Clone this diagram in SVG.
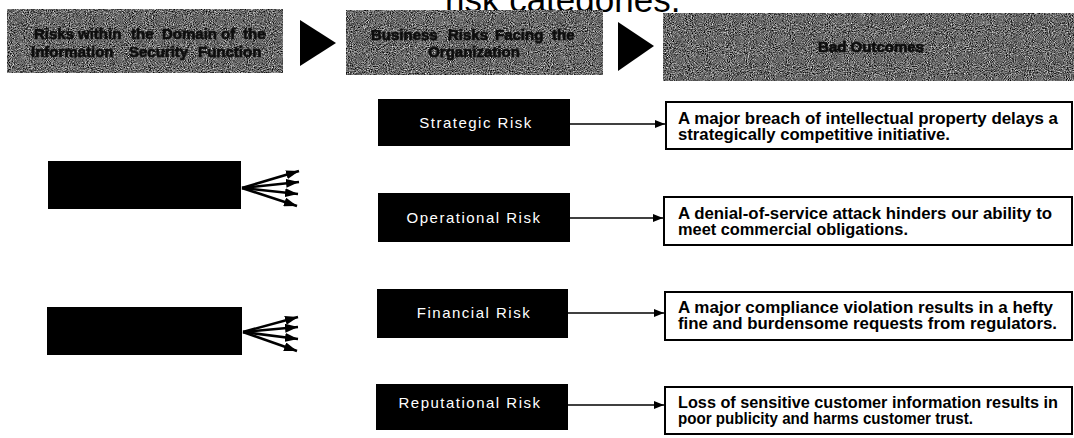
<svg xmlns="http://www.w3.org/2000/svg" width="1074" height="438" viewBox="0 0 1074 438">
  <defs>
    <!-- grainy halftone texture for the column headers -->
    <filter id="grain" x="0" y="0" width="100%" height="100%" color-interpolation-filters="sRGB">
      <feTurbulence type="fractalNoise" baseFrequency="0.95" numOctaves="2" seed="7"/>
      <feColorMatrix type="matrix" values="0.33 0.33 0.33 0 0  0.33 0.33 0.33 0 0  0.33 0.33 0.33 0 0  0 0 0 0 1"/>
      <feComponentTransfer>
        <feFuncR type="linear" slope="2.4" intercept="-0.78"/>
        <feFuncG type="linear" slope="2.4" intercept="-0.78"/>
        <feFuncB type="linear" slope="2.4" intercept="-0.78"/>
      </feComponentTransfer>
      <feComposite operator="in" in2="SourceGraphic"/>
    </filter>
    <filter id="soft" x="-5%" y="-30%" width="110%" height="160%">
      <feGaussianBlur stdDeviation="0.6"/>
    </filter>
    <marker id="head" viewBox="0 0 10 8" refX="10" refY="4" markerUnits="userSpaceOnUse" markerWidth="10" markerHeight="8" orient="auto">
      <path d="M0,0 L10,4 L0,8 z" fill="#000"/>
    </marker>
    <marker id="fanhead" viewBox="0 0 13 9" refX="13" refY="4.5" markerUnits="userSpaceOnUse" markerWidth="13" markerHeight="9" orient="auto">
      <path d="M0,0 L13,4.5 L0,9 z" fill="#000"/>
    </marker>
  </defs>
  <style>
    .hdr { fill: #7e7e7e; }
    .hdrtxt { font-family: "Liberation Sans", Arial, sans-serif; font-weight: bold; font-size: 15px; fill: #111; stroke: #111; stroke-width: 0.7px; }
    .blk { fill: #000; }
    .risk { font-family: "Liberation Sans", Arial, sans-serif; font-size: 15px; fill: #fff; letter-spacing: 1.5px; text-anchor: middle; }
    .out { fill: #fff; stroke: #000; stroke-width: 2; }
    .outtxt { font-family: "Liberation Sans", Arial, sans-serif; font-weight: bold; font-size: 16px; fill: #000; }
    .link { stroke: #000; stroke-width: 1.6; fill: none; marker-end: url(#head); }
    .fan { stroke: #000; stroke-width: 2.6; fill: none; marker-end: url(#fanhead); }
    .step { fill: #000; }
    .title { font-family: "Liberation Sans", Arial, sans-serif; font-size: 35px; fill: #000; }
  </style>

  <rect width="1074" height="438" fill="#fff"/>

  <!-- figure caption, clipped at the top edge -->
  <text class="title" x="445" y="12">risk categories.</text>

  <!-- column headers -->
  <g id="header-domain">
    <rect class="hdr" x="7" y="9" width="276" height="64"/>
    <rect x="7" y="9" width="276" height="64" filter="url(#grain)" fill="#888"/>
    <g class="hdrtxt" filter="url(#soft)">
      <text y="39"><tspan x="34">Risks</tspan><tspan x="78">within</tspan><tspan x="131">the</tspan><tspan x="162">Domain</tspan><tspan x="221">of</tspan><tspan x="243">the</tspan></text>
      <text y="57"><tspan x="31">Information</tspan><tspan x="129">Security</tspan><tspan x="198">Function</tspan></text>
    </g>
  </g>
  <polygon id="step-1" class="step" points="300,20 336,43 300,66"/>
  <g id="header-business">
    <rect class="hdr" x="346" y="10" width="257" height="65"/>
    <rect x="346" y="10" width="257" height="65" filter="url(#grain)" fill="#888"/>
    <g class="hdrtxt" filter="url(#soft)">
      <text y="40"><tspan x="371">Business</tspan><tspan x="448">Risks</tspan><tspan x="495">Facing</tspan><tspan x="552">the</tspan></text>
      <text y="57" x="474" text-anchor="middle">Organization</text>
    </g>
  </g>
  <polygon id="step-2" class="step" points="618,22 654,46 618,71"/>
  <g id="header-outcomes">
    <rect class="hdr" x="663" y="13" width="411" height="68"/>
    <rect x="663" y="13" width="411" height="68" filter="url(#grain)" fill="#888"/>
    <g class="hdrtxt" filter="url(#soft)">
      <text x="871" y="52" text-anchor="middle">Bad Outcomes</text>
    </g>
  </g>

  <!-- information security domain boxes -->
  <g id="domain-a">
    <rect class="blk" x="48" y="161" width="193" height="48"/>
  </g>
  <g id="domain-b">
    <rect class="blk" x="47" y="307" width="195" height="48"/>
  </g>

  <!-- business risk categories -->
  <g id="strategic-risk">
    <rect class="blk" x="378" y="99" width="192" height="47"/>
    <text class="risk" x="476" y="128">Strategic Risk</text>
  </g>
  <g id="operational-risk">
    <rect class="blk" x="378" y="193" width="192" height="49"/>
    <text class="risk" x="474" y="223">Operational Risk</text>
  </g>
  <g id="financial-risk">
    <rect class="blk" x="377" y="289" width="191" height="49"/>
    <text class="risk" x="474" y="318">Financial Risk</text>
  </g>
  <g id="reputational-risk">
    <rect class="blk" x="376" y="384" width="192" height="46"/>
    <text class="risk" x="470" y="408">Reputational Risk</text>
  </g>

  <!-- bad outcomes -->
  <g id="outcome-strategic">
    <rect class="out" x="666" y="102" width="406" height="47"/>
    <text class="outtxt" x="678" y="124" textLength="380" lengthAdjust="spacingAndGlyphs">A major breach of intellectual property delays a</text>
    <text class="outtxt" x="678" y="140" textLength="272" lengthAdjust="spacingAndGlyphs">strategically competitive initiative.</text>
  </g>
  <g id="outcome-operational">
    <rect class="out" x="664" y="197" width="408" height="48"/>
    <text class="outtxt" x="678" y="219" textLength="374" lengthAdjust="spacingAndGlyphs">A denial-of-service attack hinders our ability to</text>
    <text class="outtxt" x="678" y="235" textLength="230" lengthAdjust="spacingAndGlyphs">meet commercial obligations.</text>
  </g>
  <g id="outcome-financial">
    <rect class="out" x="665" y="292" width="407" height="48"/>
    <text class="outtxt" x="678" y="313" textLength="375" lengthAdjust="spacingAndGlyphs">A major compliance violation results in a hefty</text>
    <text class="outtxt" x="678" y="329" textLength="379" lengthAdjust="spacingAndGlyphs">fine and burdensome requests from regulators.</text>
  </g>
  <g id="outcome-reputational">
    <rect class="out" x="665" y="387" width="407" height="47"/>
    <text class="outtxt" x="678" y="408" textLength="380" lengthAdjust="spacingAndGlyphs">Loss of sensitive customer information results in</text>
    <text class="outtxt" x="678" y="424" textLength="295" lengthAdjust="spacingAndGlyphs">poor publicity and harms customer trust.</text>
  </g>

  <!-- connectors -->
  <g id="connectors">
    <line class="link" x1="570" y1="124" x2="665" y2="124"/>
    <line class="link" x1="570" y1="218" x2="663" y2="218"/>
    <line class="link" x1="568" y1="313" x2="664" y2="313"/>
    <line class="link" x1="568" y1="405" x2="664" y2="405"/>

    <line class="fan" x1="242" y1="188" x2="299" y2="171"/>
    <line class="fan" x1="242" y1="188" x2="299" y2="182"/>
    <line class="fan" x1="242" y1="188" x2="298" y2="194"/>
    <line class="fan" x1="242" y1="188" x2="297" y2="206"/>

    <line class="fan" x1="243" y1="332" x2="298" y2="317"/>
    <line class="fan" x1="243" y1="332" x2="298" y2="327"/>
    <line class="fan" x1="243" y1="332" x2="298" y2="339"/>
    <line class="fan" x1="243" y1="332" x2="297" y2="351"/>
  </g>
</svg>
